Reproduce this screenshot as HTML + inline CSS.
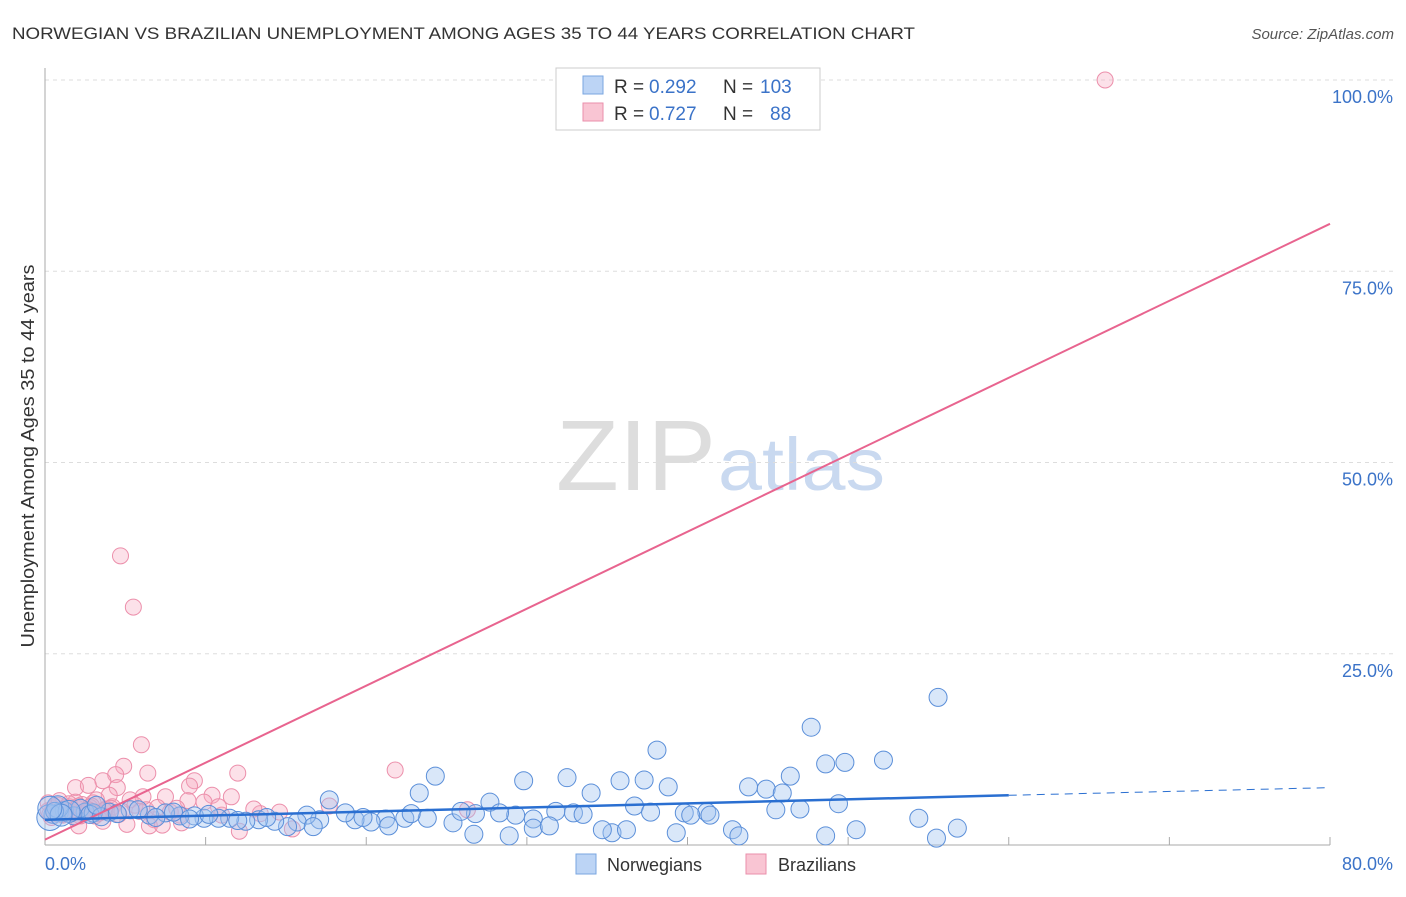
<!DOCTYPE html>
<html><head><meta charset="utf-8"><style>
body{margin:0;background:#fff;font-family:"Liberation Sans",sans-serif;}
svg text{font-family:"Liberation Sans",sans-serif;}
</style></head><body>
<svg id="chart" width="1406" height="892" viewBox="0 0 1406 892">
<text x="12" y="39" font-size="17" fill="#333" textLength="903" lengthAdjust="spacingAndGlyphs">NORWEGIAN VS BRAZILIAN UNEMPLOYMENT AMONG AGES 35 TO 44 YEARS CORRELATION CHART</text>
<text x="1394" y="39" font-size="15" fill="#555" font-style="italic" text-anchor="end">Source: ZipAtlas.com</text>
<text x="716" y="490" font-size="100" fill="#ddd" text-anchor="end" font-family="Liberation Serif" textLength="160" lengthAdjust="spacingAndGlyphs">ZIP</text>
<text x="718" y="490" font-size="74" fill="#c9d9f0" textLength="167" lengthAdjust="spacingAndGlyphs">atlas</text>
<text x="34" y="456" font-size="18" fill="#333" text-anchor="middle" textLength="383" lengthAdjust="spacingAndGlyphs" transform="rotate(-90 34 456)">Unemployment Among Ages 35 to 44 years</text>
<g id="grid"></g>
<g id="marks"></g>
<g id="lines"></g>
<g>
<rect x="556" y="68" width="264" height="62" fill="#fff" stroke="#ccc"/>
<rect x="583" y="76" width="20" height="18" fill="#bcd4f5" stroke="#7aa6e0"/>
<rect x="583" y="103" width="20" height="18" fill="#f9c5d3" stroke="#ea8fab"/>
<text x="614" y="93" font-size="19" fill="#333">R =</text>
<text x="649" y="93" font-size="19" fill="#3b73c8">0.292</text>
<text x="723" y="93" font-size="19" fill="#333">N =</text>
<text x="760" y="93" font-size="19" fill="#3b73c8">103</text>
<text x="614" y="120" font-size="19" fill="#333">R =</text>
<text x="649" y="120" font-size="19" fill="#3b73c8">0.727</text>
<text x="723" y="120" font-size="19" fill="#333">N =</text>
<text x="770" y="120" font-size="19" fill="#3b73c8">88</text>
</g>
<g>
<rect x="576" y="854" width="20" height="20" fill="#bcd4f5" stroke="#7aa6e0"/>
<text x="607" y="871" font-size="18" fill="#333">Norwegians</text>
<rect x="746" y="854" width="20" height="20" fill="#f9c5d3" stroke="#ea8fab"/>
<text x="778" y="871" font-size="18" fill="#333">Brazilians</text>
</g>
</svg>
<script>
const yTicks=[25,50,75,100];
const yTickLabels=["25.0%","50.0%","75.0%","100.0%"];
const xTickLabels=["0.0%","80.0%"];
const norX=[55.6,47.7,52.2,49.8,48.6,38.1,46.4,43.8,44.9,45.9,32.5,29.8,35.8,37.3,38.8,24.3,23.3,34.0,17.7,27.7,36.7,49.4,45.5,41.2,39.8,37.7,32.9,31.8,30.4,29.3,28.3,26.8,25.4,23.8,22.4,21.2,20.3,19.3,18.7,17.1,16.3,15.7,15.1,14.3,13.3,12.5,11.5,10.8,9.9,9.3,8.4,7.5,6.5,5.3,4.0,2.5,0.9,35.3,36.2,34.7,39.3,42.8,43.2,48.6,50.5,55.5,56.8,54.4,30.4,31.4,26.7,28.9,21.4,16.7,41.4,40.2,0.5,1.2,1.8,2.2,3.0,0.3,0.8,1.5,2.8,3.5,4.5,5.8,6.9,8.0,9.0,10.2,12.0,13.8,19.8,22.8,25.9,33.5,47.0,3.2,0.6,1.0,0.3];
const norY=[19.3,15.4,11.1,10.8,10.6,12.4,9.0,7.6,7.3,6.8,8.8,8.4,8.4,8.5,7.6,9.0,6.8,6.8,5.9,5.6,5.1,5.4,4.6,4.3,4.2,4.3,4.2,4.4,3.4,3.9,4.2,4.1,2.9,3.5,3.5,3.4,3.0,3.3,4.2,3.3,3.9,3.0,2.4,3.1,3.3,3.1,3.5,3.5,3.5,3.8,3.8,4.2,3.9,4.6,4.3,4.3,4.3,1.6,2.0,2.0,1.6,2.0,1.2,1.2,2.0,0.9,2.2,3.5,2.2,2.5,1.4,1.2,2.5,2.4,3.9,3.9,4.0,4.5,3.8,4.8,4.2,3.6,5.0,4.4,4.0,3.7,4.1,4.6,3.6,4.3,3.4,4.0,3.2,3.6,3.6,4.1,4.4,4.0,4.7,5.2,4.4,3.9,4.8];
const norR=[9,9,9,9,9,9,9,9,9,9,9,9,9,9,9,9,9,9,9,9,9,9,9,9,9,9,9,9,9,9,9,9,9,9,9,9,9,9,9,9,9,9,9,9,9,9,9,9,9,9,9,9,9,9,9,9,9,9,9,9,9,9,9,9,9,9,9,9,9,9,9,9,9,9,9,9,9,9,9,9,9,13,11,11,9,9,9,9,9,9,9,9,9,9,9,9,9,9,9,9,9,11,12];
const brzX=[66.0,4.7,5.5,6.0,21.8,12.0,6.4,4.9,4.4,3.6,9.3,9.0,4.5,1.9,2.7,4.0,6.1,7.5,10.4,11.6,8.9,9.9,17.7,26.3,14.6,13.4,11.0,8.4,6.8,6.5,7.3,5.1,3.6,2.1,15.4,12.1,8.5,3.2,5.3,0.2,0.5,0.8,1.0,1.2,1.5,1.7,2.0,2.3,2.5,2.8,3.0,3.3,3.8,4.2,0.3,0.6,0.9,1.3,1.6,1.9,2.2,2.6,2.9,3.4,4.1,4.8,5.6,6.3,7.0,7.8,0.4,0.7,1.1,1.4,1.8,2.4,3.1,3.7,4.6,5.9,0.2,0.9,1.5,2.1,2.7,8.2,10.8,13.0];
const brzY=[100,37.8,31.1,13.1,9.8,9.4,9.4,10.3,9.2,8.4,8.4,7.7,7.5,7.5,7.8,6.5,6.3,6.3,6.5,6.3,5.8,5.6,5.1,4.6,4.3,4.1,3.9,3.9,3.3,2.5,2.6,2.7,3.1,2.5,2.1,1.8,2.9,5.9,5.9,4.5,4.8,5.2,4.0,4.6,5.0,4.2,4.8,5.3,4.4,4.9,5.5,4.1,4.7,5.0,4.0,5.0,4.3,4.9,4.4,5.6,3.8,4.5,5.1,4.2,4.8,4.4,5.2,4.6,4.9,4.3,3.6,4.1,3.9,4.5,3.7,4.2,3.8,4.5,4.0,4.4,5.5,5.8,5.4,5.1,4.6,4.8,5.0,4.7];
const norTrend=[3.3,6.5,7.5]; const norTrendX=[0,60,80];
const brzTrend=[0.7,81.2]; const brzTrendX=[0,80];
const X=v=>45+v*(1285/80), Y=v=>845-v*7.65;
const NS="http://www.w3.org/2000/svg";
function mk(t,a,p){const e=document.createElementNS(NS,t);for(const k in a)e.setAttribute(k,a[k]);p.appendChild(e);return e;}
const grid=document.getElementById('grid');
yTicks.forEach((t,i)=>{
 const l=mk('line',{x1:45,x2:1394,y1:Y(t),y2:Y(t),stroke:'#ddd','stroke-dasharray':'4,4'},grid);
 
 
 const tx=mk('text',{x:1393,y:Y(t)+23,'font-size':18,fill:'#3b73c8','text-anchor':'end'},grid);tx.textContent=yTickLabels[i];
 
 
});
const ax=mk('line',{x1:45,x2:1330,y1:845,y2:845,stroke:'#aaa'},grid);


const ay=mk('line',{x1:45,x2:45,y1:68,y2:845,stroke:'#aaa'},grid);


[10,20,30,40,50,60,70,80].forEach(v=>{const t=mk('line',{x1:X(v),x2:X(v),y1:845,y2:837,stroke:'#aaa'},grid);

});
const x0=mk('text',{x:45,y:870,'font-size':18,fill:'#3b73c8'},grid);x0.textContent=xTickLabels[0];


const x1=mk('text',{x:1393,y:870,'font-size':18,fill:'#3b73c8','text-anchor':'end'},grid);x1.textContent=xTickLabels[1];


const marks=document.getElementById('marks');
brzX.forEach((v,i)=>{const c=mk('circle',{cx:X(v),cy:Y(brzY[i]),r:8,fill:'rgba(246,170,192,0.35)',stroke:'#ec8fab','stroke-width':1},marks);

});
norX.forEach((v,i)=>{const c=mk('circle',{cx:X(v),cy:Y(norY[i]),r:norR[i]||9,fill:'rgba(160,195,240,0.4)',stroke:'#5b8fd9','stroke-width':1},marks);

});
const lines=document.getElementById('lines');
const bl=mk('line',{x1:X(brzTrendX[0]),y1:Y(brzTrend[0]),x2:X(brzTrendX[1]),y2:Y(brzTrend[1]),stroke:'#e8648f','stroke-width':2},lines);


const nl=mk('line',{x1:X(norTrendX[0]),y1:Y(norTrend[0]),x2:X(norTrendX[1]),y2:Y(norTrend[1]),stroke:'#2a6fd1','stroke-width':2.5},lines);


const nd=mk('line',{x1:X(norTrendX[1]),y1:Y(norTrend[1]),x2:X(norTrendX[2]),y2:Y(norTrend[2]),stroke:'#2a6fd1','stroke-width':1,'stroke-dasharray':'8,6'},lines);


</script>
</body></html>
